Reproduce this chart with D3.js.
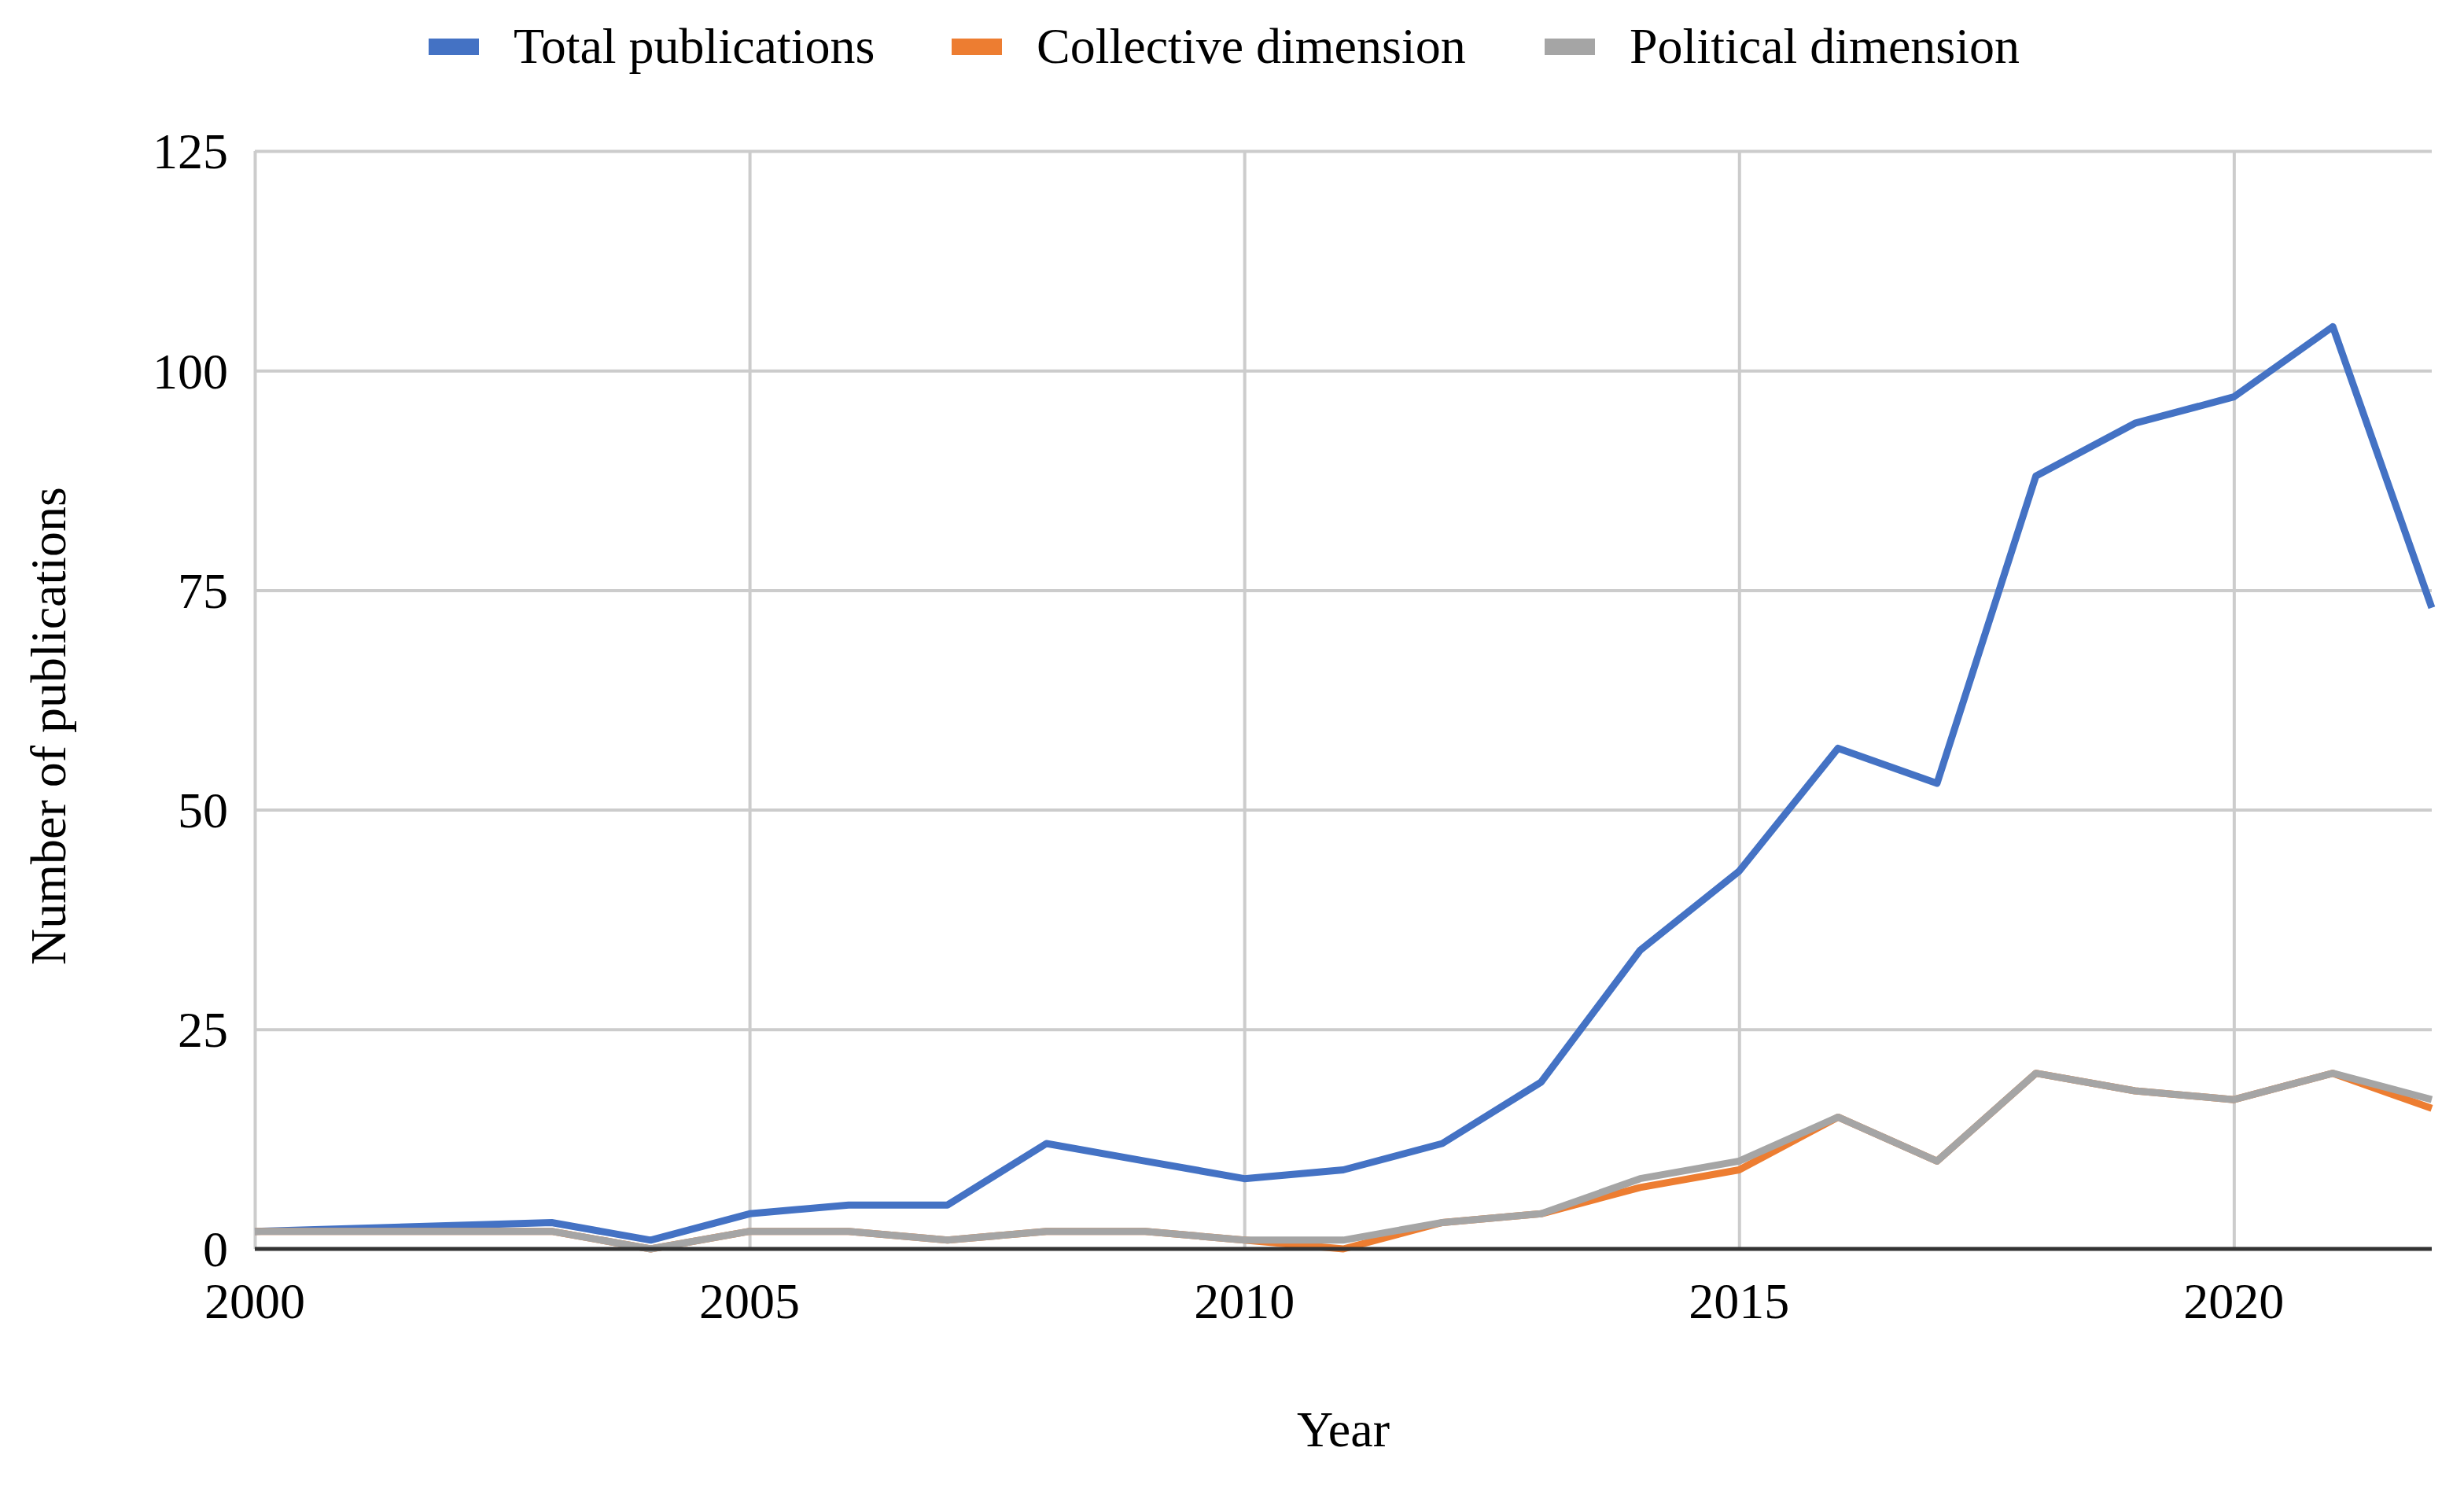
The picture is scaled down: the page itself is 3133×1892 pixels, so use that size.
<!DOCTYPE html>
<html>
<head>
<meta charset="utf-8">
<script src="https://cdn.jsdelivr.net/npm/d3@7"></script>
<style>
  html, body { margin: 0; padding: 0; background: #fff; }
  text { font-family: "Liberation Serif", "Times New Roman", serif; fill: #000; }
</style>
</head>
<body>
<svg id="chart" width="3133" height="1892"></svg>
<script>
// data (2001 and 2002 have no entries in the source chart)
var years = [2000, 2003, 2004, 2005, 2006, 2007, 2008, 2009, 2010, 2011, 2012,
             2013, 2014, 2015, 2016, 2017, 2018, 2019, 2020, 2021, 2022];
var totalPubs = [2, 3, 1, 4, 5, 5, 12, 10, 8, 9, 12, 19, 34, 43, 57, 53, 88, 94, 97, 105, 73];
var collective = [2, 2, 0, 2, 2, 1, 2, 2, 1, 0, 3, 4, 7, 9, 15, 10, 20, 18, 17, 20, 16];
var political = [2, 2, 0, 2, 2, 1, 2, 2, 1, 1, 3, 4, 8, 10, 15, 10, 20, 18, 17, 20, 17];
var seriesNames = ['Total publications', 'Collective dimension', 'Political dimension'];
var seriesColors = ['#4472c4', '#ed7d31', '#a5a5a5'];
var yTicks = [0, 25, 50, 75, 100, 125];
var xTicks = [2000, 2005, 2010, 2015, 2020];

var svg = d3.select('#chart');
var plotLeft = 324, plotRight = 3092, plotTop = 192, plotBottom = 1588;

var x = d3.scaleLinear().domain([2000, 2022]).range([plotLeft, plotRight]);
var y = d3.scaleLinear().domain([0, 125]).range([plotBottom, plotTop]);

//grid
svg.append('g')
  .attr('transform', 'translate(0,' + plotBottom + ')')
  .call(d3.axisBottom(x).tickValues(xTicks).tickSize(-(plotBottom - plotTop)).tickFormat(''))
  .call(function (g) {
    g.select('.domain').remove();
    g.selectAll('line').attr('stroke', '#cccccc').attr('stroke-width', 4);
  });

svg.append('g')
  .attr('transform', 'translate(' + plotLeft + ',0)')
  .call(d3.axisLeft(y).tickValues(yTicks.slice(1)).tickSize(-(plotRight - plotLeft)).tickFormat(''))
  .call(function (g) {
    g.select('.domain').remove();
    g.selectAll('line').attr('stroke', '#cccccc').attr('stroke-width', 4);
  });

//tick labels
svg.append('g').selectAll('text')
  .data(yTicks).enter()
  .append('text')
  .attr('x', 290)
  .attr('y', function (d) { return y(d); })
  .attr('dy', '0.35em')
  .attr('text-anchor', 'end')
  .style('font-size', '64px')
  .text(function (d) { return d; });

svg.append('g').selectAll('text')
  .data(xTicks).enter()
  .append('text')
  .attr('x', function (d) { return x(d); })
  .attr('y', 1676)
  .attr('text-anchor', 'middle')
  .style('font-size', '64px')
  .text(function (d) { return d; });

//lines
var rows = [totalPubs, collective, political];
rows.forEach(function (vals, i) {
  var line = d3.line()
    .x(function (d, j) { return x(years[j]); })
    .y(function (d) { return y(d); });
  svg.append('path')
    .datum(vals)
    .attr('d', line)
    .attr('fill', 'none')
    .attr('stroke', seriesColors[i])
    .attr('stroke-width', 9)
    .attr('stroke-linejoin', 'round');
});

//baseline
svg.append('line')
  .attr('x1', plotLeft).attr('x2', plotRight)
  .attr('y1', y(0)).attr('y2', y(0))
  .attr('stroke', '#333333')
  .attr('stroke-width', 5);

//axis titles
svg.append('text')
  .attr('x', (plotLeft + plotRight) / 2)
  .attr('y', 1839)
  .attr('text-anchor', 'middle')
  .style('font-size', '64px')
  .text('Year');

svg.append('text')
  .attr('transform', 'translate(83,923) rotate(-90)')
  .attr('text-anchor', 'middle')
  .style('font-size', '64px')
  .text('Number of publications');

//legend
var legendX = [545, 1210, 1964];
var legend = svg.append('g').selectAll('g')
  .data(seriesNames).enter()
  .append('g')
  .attr('transform', function (d, i) { return 'translate(' + legendX[i] + ',0)'; });
legend.append('rect')
  .attr('x', 0).attr('y', 49)
  .attr('width', 64).attr('height', 21)
  .attr('fill', function (d, i) { return seriesColors[i]; });
legend.append('text')
  .attr('x', 108)
  .attr('y', 80)
  .style('font-size', '64px')
  .text(function (d) { return d; });
</script>
</body>
</html>
